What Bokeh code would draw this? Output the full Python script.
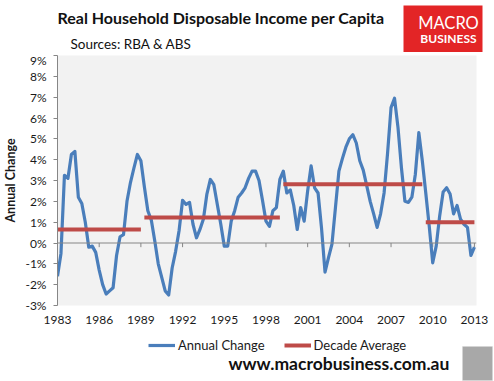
from bokeh.plotting import figure
from bokeh.layouts import column
from bokeh.models import (Range1d, FixedTicker, Span, Label, Legend, LegendItem,
                          BoxAnnotation, ColumnDataSource)
from bokeh.embed import file_html
from bokeh.resources import INLINE

# ---------------- data ----------------
start_year = 1983
annual_change = [
    -1.6, -0.5, 3.25, 3.1, 4.25, 4.4, 2.2, 1.9, 1.0, -0.2,
    -0.15, -0.45, -1.3, -2.0, -2.45, -2.3, -2.15, -0.6, 0.3, 0.4,
    2.0, 2.9, 3.6, 4.25, 3.95, 2.7, 1.55, 1.1, 0.1, -1.0,
    -1.65, -2.3, -2.5, -1.2, -0.4, 0.6, 2.05, 1.85, 1.95, 0.9,
    0.25, 0.65, 1.15, 2.35, 3.05, 2.8, 1.85, 0.9, -0.15, -0.15,
    1.05, 1.55, 2.2, 2.4, 2.65, 3.1, 3.45, 3.45, 3.0, 2.05,
    1.05, 0.8, 1.55, 1.7, 3.05, 3.45, 2.4, 2.55, 1.8, 0.65,
    1.7, 1.05, 2.5, 3.7, 2.65, 2.4, 0.7, -1.4, -0.7, -0.05,
    1.7, 3.45, 4.05, 4.6, 5.0, 5.2, 4.8, 3.95, 3.5, 2.75,
    2.0, 1.4, 0.75, 1.4, 2.4, 4.3, 6.5, 6.95, 5.55, 3.6,
    2.0, 1.95, 2.2, 3.3, 5.3, 3.95, 2.4, 0.8, -0.95, -0.15,
    1.3, 2.45, 2.65, 2.35, 1.4, 1.8, 1.15, 0.9, 0.75, -0.6,
    -0.2,
]
quarters = [start_year + i / 4 for i in range(len(annual_change))]

avg_values = [0.65, 1.23, 2.82, 1.0]
avg_start_q = [0, 25, 65, 106]
avg_end_q = [24, 64, 105, 120]

x_ticks = [1983, 1986, 1989, 1992, 1995, 1998, 2001, 2004, 2007, 2010, 2013]
x_labels = [str(t) for t in x_ticks]
y_ticks = list(range(-3, 10))
y_labels = [f"{t}%" for t in y_ticks]

series_names = ["Annual Change", "Decade Average"]
title_text = "Real Household Disposable Income per Capita"
subtitle_text = "Sources: RBA & ABS"
footer_text = "www.macrobusiness.com.au"

FONT = "Lato"
BLUE = "#4a7ebb"
RED = "#be4b48"
GREY = "#868686"
W = 494


def blank(height):
    f = figure(width=W, height=height, output_backend="svg", toolbar_location=None,
               x_range=Range1d(0, W), y_range=Range1d(height, 0),
               min_border=0, min_border_left=0, min_border_right=0,
               min_border_top=0, min_border_bottom=0,
               x_axis_type=None, y_axis_type=None, frame_align=False)
    f.grid.visible = False
    f.outline_line_color = None
    f.background_fill_color = "white"
    f.border_fill_color = "white"
    return f


# ---------------- header ----------------
head = blank(52)
head.add_layout(Label(x=57, y=17, text=title_text, text_font=FONT,
                      text_font_style="bold", text_font_size="16px",
                      text_baseline="middle", text_color="#111111"))
head.add_layout(Label(x=70, y=43, text=subtitle_text, text_font=FONT,
                      text_font_size="13.5px", text_baseline="middle",
                      text_color="#111111"))
head.add_layout(BoxAnnotation(left=403, right=482, top=5, bottom=52,
                              fill_color="#e32526", fill_alpha=1, line_color=None))
head.add_layout(Label(x=448, y=22, text="MACRO", text_font=FONT,
                      text_font_size="16.5px", text_color="white",
                      text_align="center", text_baseline="middle"))
head.add_layout(Label(x=448, y=38, text="BUSINESS", text_font=FONT,
                      text_font_size="12px", text_font_style="bold",
                      text_color="white", text_align="center",
                      text_baseline="middle"))

# ---------------- main chart ----------------
p = figure(width=W, height=278, output_backend="svg", toolbar_location=None,
           x_range=Range1d(1983, 2013.15), y_range=Range1d(-3, 9),
           min_border_left=55, min_border_right=18, min_border_top=3,
           min_border_bottom=25, frame_align=False)
p.background_fill_color = "#f2f2f2"
p.border_fill_color = "white"
p.outline_line_color = None
p.grid.visible = False

ya = p.yaxis[0]
ya.ticker = FixedTicker(ticks=y_ticks)
ya.major_label_overrides = dict(zip(y_ticks, y_labels))
ya.minor_tick_line_color = None
ya.axis_line_color = GREY
ya.major_tick_line_color = GREY
ya.major_tick_out = 4
ya.major_tick_in = 0
ya.major_label_standoff = 7
ya.major_label_text_font = FONT
ya.major_label_text_font_size = "12px"
ya.major_label_text_color = "#1a1a1a"
ya.axis_label = "Annual Change"
ya.axis_label_text_font = FONT
ya.axis_label_text_font_size = "12.5px"
ya.axis_label_text_font_style = "bold"
ya.axis_label_text_color = "#1a1a1a"
ya.axis_label_standoff = 4

xa = p.xaxis[0]
xa.ticker = FixedTicker(ticks=x_ticks)
xa.major_label_overrides = dict(zip(x_ticks, x_labels))
xa.axis_line_color = None
xa.major_tick_line_color = None
xa.minor_tick_line_color = None
xa.major_tick_out = 0
xa.major_label_standoff = 10
xa.major_label_text_font = FONT
xa.major_label_text_font_size = "12px"
xa.major_label_text_color = "#1a1a1a"

# zero line with category tick marks
p.add_layout(Span(location=0, dimension="width", line_color=GREY, line_width=1))
tick_src = ColumnDataSource(dict(x=x_ticks[1:], y0=[0] * (len(x_ticks) - 1),
                                 y1=[-0.2] * (len(x_ticks) - 1)))
p.segment(x0="x", y0="y0", x1="x", y1="y1", source=tick_src,
          line_color=GREY, line_width=1)

p.line(quarters, annual_change, line_color=BLUE, line_width=3.2, line_join="round")
avg_src = ColumnDataSource(dict(
    x0=[quarters[i] for i in avg_start_q],
    x1=[quarters[i] for i in avg_end_q],
    y=avg_values,
))
p.segment(x0="x0", y0="y", x1="x1", y1="y", source=avg_src,
          line_color=RED, line_width=4)

# ---------------- footer (legend + site) ----------------
foot = blank(51)
# legend swatches (kept outside the visible range; only their styles are shown)
lg_line = foot.line(x=[-50, -40], y=[-50, -50], line_color=BLUE, line_width=3.2)
lg_seg = foot.segment(x0=[-50], y0=[-50], x1=[-40], y1=[-50],
                      line_color=RED, line_width=4)
legend = Legend(items=[LegendItem(label=series_names[0], renderers=[lg_line]),
                       LegendItem(label=series_names[1], renderers=[lg_seg])],
                orientation="horizontal", location=(148, 28),
                padding=0, margin=0, spacing=19, glyph_width=27, glyph_height=14,
                label_height=14, label_standoff=3,
                label_text_font=FONT, label_text_font_size="13px",
                label_text_color="#1a1a1a",
                border_line_alpha=0, background_fill_alpha=0)
foot.add_layout(legend)
foot.add_layout(Label(x=228, y=33, text=footer_text, text_font=FONT,
                      text_font_style="bold", text_font_size="17.5px",
                      text_baseline="middle", text_color="#111111"))
foot.add_layout(BoxAnnotation(left=462, right=492, top=16, bottom=50,
                              fill_color="#a8a8a8", fill_alpha=1,
                              line_color="#d8d8d8", line_width=1))

layout = column(head, p, foot, spacing=0)
open("out.html", "w").write(file_html(layout, INLINE))
